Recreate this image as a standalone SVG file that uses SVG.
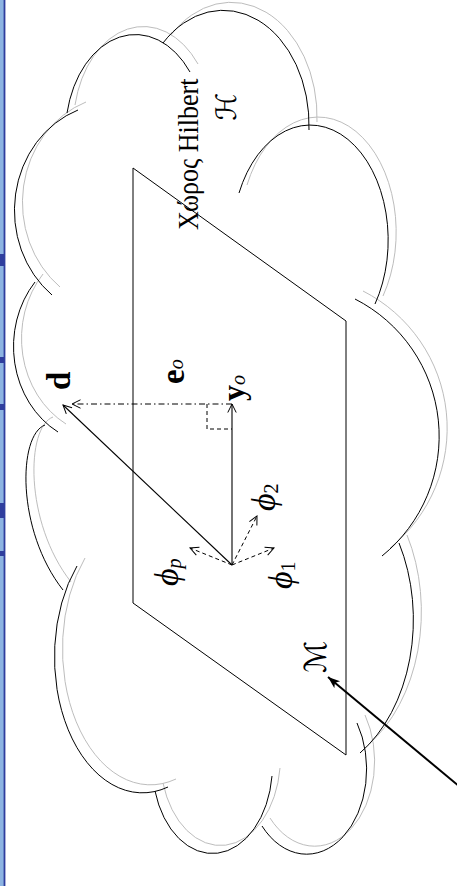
<svg xmlns="http://www.w3.org/2000/svg" width="457" height="886" viewBox="0 0 457 886">
<style>
.lobe{fill:none;stroke:#000;stroke-width:1}
.lobeg{fill:none;stroke:#bdbdbd;stroke-width:1}
.plane{fill:none;stroke:#000;stroke-width:1}
.vec{fill:none;stroke:#000;stroke-width:1.1}
.dash{fill:none;stroke:#000;stroke-width:1;stroke-dasharray:4 3}
.dashdot{fill:none;stroke:#000;stroke-width:1;stroke-dasharray:6 3 1.5 3}
.txt{font-family:"Liberation Serif","DejaVu Serif",serif;fill:#000}
.math{font-family:"Liberation Serif","DejaVu Serif",serif;fill:#000}
.cal{font-family:"DejaVu Sans","DejaVu Serif",sans-serif;fill:#000}
.bold{font-weight:bold}
.it{font-style:italic}
</style>
<defs>
<marker id="open" markerWidth="12" markerHeight="12" refX="10" refY="6" orient="auto" markerUnits="userSpaceOnUse">
<path d="M1.5,1.8 L10,6 L1.5,10.2" fill="none" stroke="#000" stroke-width="1" stroke-dasharray="none"/>
</marker>
<marker id="solid" markerWidth="14" markerHeight="12" refX="12" refY="5" orient="auto" markerUnits="userSpaceOnUse">
<path d="M0,0.5 L12,5 L0,9.5 L3,5 Z" fill="#000"/>
</marker>
<g id="cloudpath">
<path d="M67,113 A70,100 0 0 1 190,72"/>
<path d="M163,43 A86,115 0 0 1 309,130"/>
<path d="M239,193 A78,115 0 1 1 375,304"/>
<path d="M355,299 A154,154 0 0 1 382,556"/>
<path d="M399,543 A113,157 0 0 1 360,753"/>
<path d="M357,723 A60,85 0 0 1 262,826"/>
<path d="M272,776 A60,88 0 0 1 155,791"/>
<path d="M168,787 A88,136 0 0 1 77,566"/>
<path d="M63,590 C16,530 18,435 45,425"/>
<path d="M58,432 A87,98 0 0 1 35,282"/>
<path d="M52,295 A97,107 0 0 1 78,110"/>
</g>
</defs>

<g id="frame">
<rect x="0" y="0" width="4" height="886" fill="#8db4e2"/>
<rect x="3.6" y="0" width="1.8" height="886" fill="#2f3e9e"/>
<rect x="0" y="254" width="4.5" height="12" fill="#2f3e9e"/>
<rect x="0" y="357" width="4.5" height="6" fill="#2f3e9e"/>
<rect x="0" y="404" width="4.5" height="6" fill="#2f3e9e"/>
<rect x="0" y="503" width="4.5" height="15" fill="#2f3e9e"/>
<rect x="0" y="551" width="4.5" height="5" fill="#2f3e9e"/>
</g>

<g id="cloud">
<use href="#cloudpath" class="lobeg" transform="translate(8,-8)"/>
<use href="#cloudpath" class="lobe"/>
<text class="txt" font-size="26" transform="translate(198,230) rotate(-90) scale(1,1.1)">Χώρος Hilbert</text>
<text class="cal" font-size="28" text-anchor="middle" transform="translate(236,107) rotate(-90)">ℋ</text>
</g>

<g id="plane">
<polygon class="plane" points="133,168 346,321 346,755 133,603"/>
<text class="cal" font-size="30" text-anchor="middle" transform="translate(326,657) rotate(-90)">ℳ</text>
</g>

<g id="labels">
<text class="math bold" font-size="33" transform="translate(70,390) rotate(-90)">d</text>
<text class="math bold" font-size="33" transform="translate(184,384) rotate(-90)">e<tspan class="it" font-weight="normal" font-size="20" dy="-1">o</tspan></text>
<text class="math bold" font-size="32" transform="translate(244,401) rotate(-90)">y<tspan class="it" font-weight="normal" font-size="20" dy="1">o</tspan></text>
<text class="math it" font-size="34" transform="translate(178,586) rotate(-90)">ϕ<tspan font-size="20" dy="3">p</tspan></text>
<text class="math it" font-size="34" transform="translate(292,589) rotate(-90)">ϕ<tspan font-style="normal" font-size="20" dy="3">1</tspan></text>
<text class="math it" font-size="34" transform="translate(275,511) rotate(-90)">ϕ<tspan font-style="normal" font-size="20" dy="3">2</tspan></text>
</g>

<g id="connectors">
<line class="vec" x1="232" y1="565" x2="63" y2="405" marker-end="url(#open)"/>
<line class="vec" x1="232" y1="565" x2="232" y2="404" marker-end="url(#open)"/>
<line class="dashdot" x1="232" y1="404" x2="72" y2="404" marker-end="url(#open)"/>
<polyline class="dash" points="207,404 207,429 232,429"/>
<line class="dash" x1="232" y1="565" x2="190" y2="548" marker-end="url(#open)"/>
<line class="dash" x1="232" y1="565" x2="274" y2="548" marker-end="url(#open)"/>
<line class="dash" x1="232" y1="565" x2="257" y2="516" marker-end="url(#open)"/>
<line fill="none" stroke="#000" stroke-width="2" x1="472" y1="797" x2="328" y2="677" marker-end="url(#solid)"/>
</g>
</svg>
